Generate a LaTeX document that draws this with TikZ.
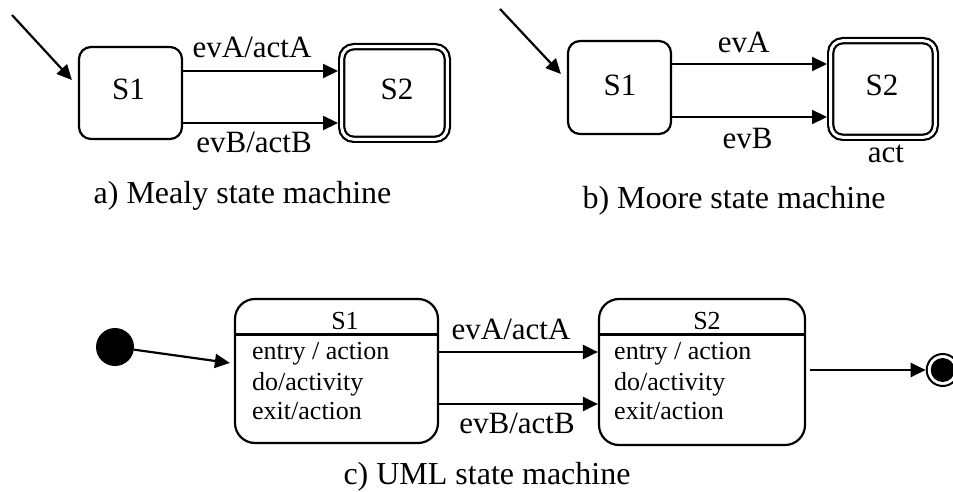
\documentclass[tikz,border=0pt]{standalone}
\usepackage{fontspec}
\setmainfont{Liberation Serif}
\usetikzlibrary{arrows.meta,calc}

\tikzset{
  stbox/.style={draw, line width=2.2pt, rounded corners=12pt, inner sep=0pt},
  finalbox/.style={stbox, double, double distance=3pt, line width=2.2pt, outer sep=3.7pt},
  umlbox/.style={draw, line width=2.2pt, rounded corners=20pt, inner sep=0pt},
  arr/.style={-{Triangle[length=15pt,width=14pt]}, line width=2.2pt},
  bigtxt/.style={font=\fontsize{31}{34}\selectfont},
  lbl/.style={bigtxt, anchor=base, inner sep=0pt},
  captxt/.style={font=\fontsize{32}{35}\selectfont, anchor=base, inner sep=0pt},
  umltxt/.style={font=\fontsize{26}{29}\selectfont, anchor=base west, inner sep=0pt},
  umltitle/.style={font=\fontsize{26}{29}\selectfont, anchor=base, inner sep=0pt},
}

\begin{document}
\begin{tikzpicture}[x=1pt, y=-1pt]
\useasboundingbox (0,0) rectangle (953,492);

% ---------- a) Mealy ----------
\node[stbox, minimum width=103pt, minimum height=92pt] (s1a) at (130.5,93) {};
\node[finalbox, minimum width=105.6pt, minimum height=92.6pt] (s2a) at (394.5,93) {};
\node[lbl] (n1a) at (128.5,100) {S1};
\node[lbl] (n2a) at (397,100) {S2};
\coordinate (ia) at (12,15);
\draw[arr] (ia) -- ($(s1a.west)+(-6,-13)$);
\draw[arr] (s1a.east |- 0,71) -- (s2a.west |- 0,71);
\draw[arr] (s1a.east |- 0,123) -- (s2a.west |- 0,123);
\node[lbl] (la1) at (252,58) {evA/actA};
\node[lbl] (la2) at (254,153) {evB/actB};
\node[captxt] (capa) at (242.5,203) {a) Mealy state machine};

% ---------- b) Moore ----------
\node[stbox, minimum width=103pt, minimum height=93pt] (s1b) at (619.5,87.5) {};
\node[finalbox, minimum width=104.6pt, minimum height=96.6pt] (s2b) at (883,89) {};
\node[lbl] (n1b) at (620,96) {S1};
\node[lbl] (n2b) at (882,96) {S2};
\coordinate (ib) at (500,9);
\draw[arr] (ib) -- ($(s1b.west)+(-6,-13.5)$);
\draw[arr] (s1b.east |- 0,64) -- (s2b.west |- 0,64);
\draw[arr] (s1b.east |- 0,117) -- (s2b.west |- 0,117);
\node[lbl] (lb1) at (743.7,52.7) {evA};
\node[lbl] (lb2) at (747.5,148.3) {evB};
\node[lbl] (lb3) at (886,163) {act};
\node[captxt] (capb) at (734,208) {b) Moore state machine};

% ---------- c) UML ----------
\node[circle, fill=black, minimum size=38pt, inner sep=0pt] (init) at (115,347) {};
\node[umlbox, minimum width=203pt, minimum height=144pt] (s1c) at (336.5,371) {};
\node[umlbox, minimum width=206pt, minimum height=146pt] (s2c) at (702,372) {};
\draw[line width=2.2pt] (s1c.west |- 0,334.5) -- (s1c.east |- 0,334.5);
\draw[line width=2.2pt] (s2c.west |- 0,334.5) -- (s2c.east |- 0,334.5);

\node[umltitle] (t1) at (345,329) {S1};
\node[umltxt] (e1) at (252,359) {entry / action};
\node[umltxt] (d1) at (252,390) {do/activity};
\node[umltxt] (x1) at (252,419) {exit/action};

\node[umltitle] (t2) at (707,329) {S2};
\node[umltxt] (e2) at (614,359) {entry / action};
\node[umltxt] (d2) at (614,390) {do/activity};
\node[umltxt] (x2) at (614,419) {exit/action};

\draw[arr] (init) -- ($(s1c.west)+(-4,-8)$);
\draw[arr] (s1c.east |- 0,352) -- (s2c.west |- 0,352);
\draw[arr] (s1c.east |- 0,404) -- (s2c.west |- 0,404);
\node[lbl] (lc1) at (511,339) {evA/actA};
\node[lbl] (lc2) at (517,433) {evB/actB};

\node[circle, draw, line width=2pt, minimum size=32pt, inner sep=0pt, outer sep=1pt] (fin) at (942.7,370) {};
\fill (fin.center) circle (12pt);
\draw[arr] ($(s2c.east)+(4,-2)$) -- (fin.west);

\node[captxt] (capc) at (487,484) {c) UML state machine};
\end{tikzpicture}
\end{document}
